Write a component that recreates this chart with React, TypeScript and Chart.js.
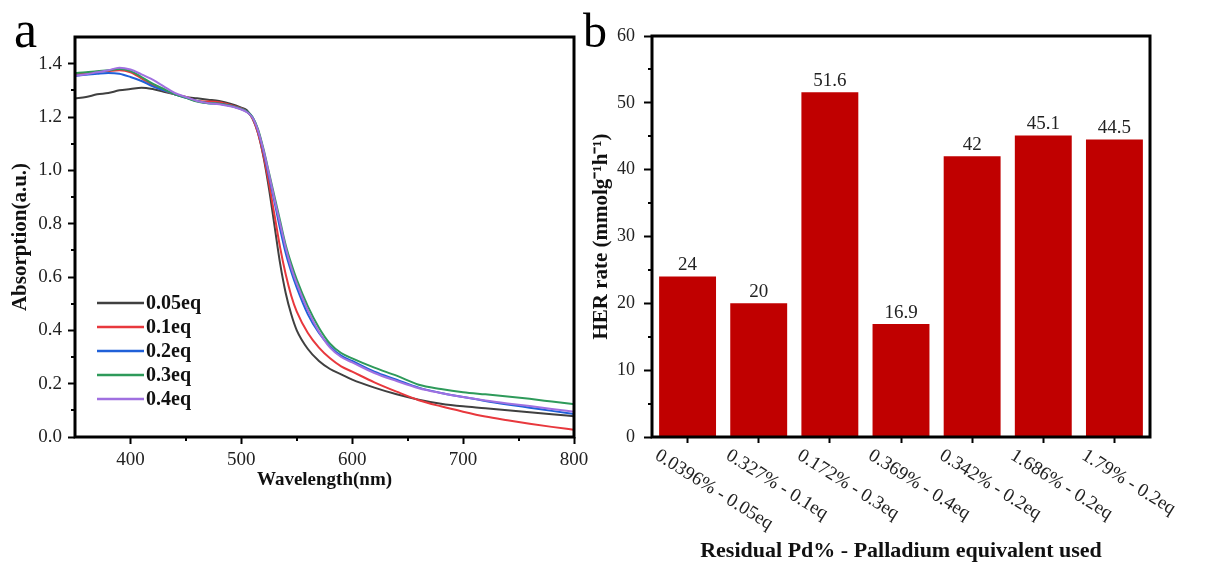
import React, { useEffect, useRef } from 'react';
import { Chart, registerables } from 'chart.js';
Chart.register(...registerables);

const SERIF = "'Liberation Serif', 'Times New Roman', serif";

// ---------- Panel a data ----------
const wavelengths = [350, 360, 370, 380, 390, 400, 410, 420, 430, 440, 450, 460, 470, 480, 490, 500, 505, 510, 515, 520, 525, 530, 535, 540, 545, 550, 560, 570, 580, 590, 600, 620, 640, 660, 680, 700, 720, 740, 760, 780, 800];
const abs005 = [1.27, 1.275, 1.285, 1.29, 1.3, 1.305, 1.31, 1.305, 1.295, 1.285, 1.275, 1.27, 1.265, 1.26, 1.25, 1.235, 1.225, 1.195, 1.14, 1.05, 0.93, 0.79, 0.65, 0.54, 0.46, 0.4, 0.33, 0.285, 0.255, 0.235, 0.215, 0.185, 0.16, 0.14, 0.125, 0.115, 0.108, 0.1, 0.093, 0.085, 0.078];
const abs01 = [1.36, 1.365, 1.37, 1.372, 1.375, 1.368, 1.345, 1.32, 1.3, 1.285, 1.275, 1.26, 1.258, 1.255, 1.245, 1.232, 1.22, 1.195, 1.14, 1.055, 0.95, 0.83, 0.71, 0.61, 0.53, 0.47, 0.39, 0.335, 0.295, 0.265, 0.245, 0.205, 0.17, 0.138, 0.115, 0.095, 0.077, 0.063, 0.05, 0.038, 0.027];
const abs02 = [1.355, 1.358, 1.362, 1.365, 1.362, 1.35, 1.335, 1.315, 1.3, 1.285, 1.272, 1.26, 1.252, 1.25, 1.242, 1.23, 1.22, 1.2, 1.15, 1.07, 0.975, 0.88, 0.78, 0.69, 0.62, 0.56, 0.46, 0.39, 0.34, 0.305, 0.285, 0.245, 0.215, 0.185, 0.165, 0.15, 0.135, 0.122, 0.11, 0.098, 0.086];
const abs03 = [1.365, 1.368, 1.372, 1.375, 1.38, 1.372, 1.35, 1.325, 1.305, 1.285, 1.272, 1.258, 1.252, 1.25, 1.242, 1.23, 1.22, 1.2, 1.155, 1.08, 0.99, 0.9, 0.81, 0.72, 0.65, 0.59, 0.49, 0.41, 0.35, 0.315, 0.295, 0.26, 0.23, 0.196, 0.18, 0.168, 0.16, 0.152, 0.143, 0.133, 0.123];
const abs04 = [1.355, 1.36, 1.368, 1.375, 1.385, 1.378, 1.36, 1.34, 1.315, 1.29, 1.275, 1.26, 1.252, 1.248, 1.24, 1.228, 1.218, 1.198, 1.15, 1.075, 0.985, 0.89, 0.8, 0.71, 0.635, 0.575, 0.475, 0.395, 0.335, 0.3, 0.28, 0.24, 0.21, 0.183, 0.165, 0.15, 0.137, 0.126, 0.116, 0.105, 0.095];
const seriesNames = ['0.05eq', '0.1eq', '0.2eq', '0.3eq', '0.4eq'];
const seriesColors = ['#404040', '#e8383d', '#2060d8', '#2e9a5a', '#a070e0'];
const seriesValues = [abs005, abs01, abs02, abs03, abs04];
const xTicksA = [400, 500, 600, 700, 800];
const xMinorA = [450, 550, 650, 750];
const yTicksA = [0, 0.2, 0.4, 0.6, 0.8, 1.0, 1.2, 1.4];
const yMinorA = [0.1, 0.3, 0.5, 0.7, 0.9, 1.1, 1.3];

// ---------- Panel b data ----------
const categories = ['0.0396% - 0.05eq', '0.327% - 0.1eq', '0.172% - 0.3eq', '0.369% - 0.4eq', '0.342% - 0.2eq', '1.686% - 0.2eq', '1.79% - 0.2eq'];
const herRates = [24, 20, 51.6, 16.9, 42, 45.1, 44.5];
const yTicksB = [0, 10, 20, 30, 40, 50, 60];
const yMinorB = [5, 15, 25, 35, 45, 55];

function drawFrame(chart: any) {
  const { ctx, chartArea: a } = chart;
  ctx.save();
  ctx.strokeStyle = '#000';
  ctx.lineWidth = 3;
  ctx.strokeRect(a.left, a.top, a.right - a.left, a.bottom - a.top);
  ctx.restore();
}

function drawMinor(chart: any, xs: number[], ys: number[], len: number) {
  const { ctx, chartArea: a, scales } = chart;
  ctx.save();
  ctx.strokeStyle = '#000';
  ctx.lineWidth = 2;
  ctx.beginPath();
  xs.forEach((v) => {
    const px = Math.round(scales.x.getPixelForValue(v));
    ctx.moveTo(px, a.bottom);
    ctx.lineTo(px, a.bottom + len);
  });
  ys.forEach((v) => {
    const py = Math.round(scales.y.getPixelForValue(v));
    ctx.moveTo(a.left, py);
    ctx.lineTo(a.left - len, py);
  });
  ctx.stroke();
  ctx.restore();
}

function PanelA() {
  const ref = useRef<HTMLCanvasElement>(null);
  useEffect(() => {
    const plugin = {
      id: 'decorA',
      afterDraw(chart: any) {
        const { ctx } = chart;
        drawMinor(chart, xMinorA, yMinorA, 4);
        drawFrame(chart);
        // legend
        ctx.save();
        ctx.font = `bold 20px ${SERIF}`;
        ctx.textBaseline = 'middle';
        chart.data.datasets.forEach((ds: any, i: number) => {
          const y = 303 + i * 24;
          ctx.strokeStyle = ds.borderColor;
          ctx.lineWidth = 2.5;
          ctx.beginPath();
          ctx.moveTo(97, y);
          ctx.lineTo(144, y);
          ctx.stroke();
          ctx.fillStyle = '#111';
          ctx.fillText(ds.label, 146, y + 1);
        });
        ctx.fillStyle = '#000';
        ctx.font = `52px ${SERIF}`;
        ctx.textBaseline = 'alphabetic';
        ctx.fillText('a', 14, 47);
        ctx.restore();
      },
    };
    const chart = new Chart(ref.current!, {
      type: 'line',
      data: {
        datasets: seriesNames.map((name, i) => ({
          label: name,
          data: wavelengths.map((w, j) => ({ x: w, y: seriesValues[i][j] })),
          borderColor: seriesColors[i],
          borderWidth: 2,
          pointRadius: 0,
          cubicInterpolationMode: 'monotone',
          order: 4 - i,
        })),
      },
      options: {
        animation: false,
        responsive: false,
        layout: { padding: { left: 8, right: 26, top: 37, bottom: 77 } },
        plugins: { legend: { display: false }, tooltip: { enabled: false } },
        scales: {
          x: {
            type: 'linear',
            min: 350,
            max: 800,
            afterBuildTicks: (s: any) => { s.ticks = xTicksA.map((v) => ({ value: v })); },
            afterFit: (s: any) => { s.height = 54; },
            ticks: { color: '#222', font: { family: SERIF, size: 19 }, padding: 5, maxRotation: 0 },
            grid: { drawOnChartArea: false, tickLength: 7, tickWidth: 2, tickColor: '#000' },
            border: { display: false },
            title: { display: true, text: 'Wavelength(nm)', color: '#111', font: { family: SERIF, size: 19, weight: 'bold' }, padding: 0 },
          },
          y: {
            min: 0,
            max: 1.5,
            afterBuildTicks: (s: any) => { s.ticks = yTicksA.map((v) => ({ value: v })); },
            afterFit: (s: any) => { s.width = 67; },
            ticks: { color: '#222', font: { family: SERIF, size: 19 }, padding: 6, callback: (v: any) => Number(v).toFixed(1) },
            grid: { drawOnChartArea: false, tickLength: 7, tickWidth: 2, tickColor: '#000' },
            border: { display: false },
            title: { display: true, text: 'Absorption(a.u.)', color: '#111', font: { family: SERIF, size: 21, weight: 'bold' }, padding: 0 },
          },
        },
      } as any,
      plugins: [plugin],
    });
    return () => chart.destroy();
  }, []);
  return <canvas ref={ref} width={600} height={568} style={{ position: 'absolute', left: 0, top: 0, width: 600, height: 568 }} />;
}

function PanelB() {
  const ref = useRef<HTMLCanvasElement>(null);
  useEffect(() => {
    const plugin = {
      id: 'decorB',
      afterDraw(chart: any) {
        const { ctx, chartArea: a, scales } = chart;
        drawMinor(chart, [], yMinorB, 4);
        drawFrame(chart);
        ctx.save();
        // value labels
        ctx.fillStyle = '#222';
        ctx.font = `19px ${SERIF}`;
        ctx.textAlign = 'center';
        ctx.textBaseline = 'bottom';
        const meta = chart.getDatasetMeta(0);
        meta.data.forEach((bar: any, i: number) => {
          ctx.fillText(String(herRates[i]), bar.x, bar.y - 2);
        });
        // rotated category labels
        ctx.textAlign = 'left';
        ctx.textBaseline = 'top';
        ctx.font = `19px ${SERIF}`;
        const ang = (32 * Math.PI) / 180;
        categories.forEach((c, i) => {
          const px = scales.x.getPixelForValue(i);
          ctx.save();
          ctx.translate(px - 26, a.bottom + 9);
          ctx.rotate(ang);
          ctx.fillText(c, 0, 0);
          ctx.restore();
        });
        ctx.fillStyle = '#000';
        ctx.font = `48px ${SERIF}`;
        ctx.textBaseline = 'alphabetic';
        ctx.fillText('b', 3, 47);
        ctx.restore();
      },
    };
    const chart = new Chart(ref.current!, {
      type: 'bar',
      data: {
        labels: categories,
        datasets: [{ label: 'HER rate', data: herRates, backgroundColor: '#c00000', categoryPercentage: 1, barPercentage: 0.8 }],
      },
      options: {
        animation: false,
        responsive: false,
        layout: { padding: { left: 9, right: 58, top: 36, bottom: 3 } },
        plugins: { legend: { display: false }, tooltip: { enabled: false } },
        scales: {
          x: {
            type: 'category',
            afterFit: (s: any) => { s.height = 128; },
            ticks: { display: false },
            grid: { drawOnChartArea: false, offset: false, tickLength: 6, tickWidth: 2, tickColor: '#000' },
            border: { display: false },
            title: { display: true, text: 'Residual Pd% - Palladium equivalent used', color: '#111', font: { family: SERIF, size: 22, weight: 'bold' }, padding: 0 },
          },
          y: {
            min: 0,
            max: 60,
            afterBuildTicks: (s: any) => { s.ticks = yTicksB.map((v) => ({ value: v })); },
            afterFit: (s: any) => { s.width = 63; },
            ticks: { color: '#222', font: { family: SERIF, size: 18 }, padding: 9 },
            grid: { drawOnChartArea: false, tickLength: 8, tickWidth: 2, tickColor: '#000' },
            border: { display: false },
            title: { display: true, text: 'HER rate (mmolg⁻¹h⁻¹)', color: '#111', font: { family: SERIF, size: 21, weight: 'bold' }, padding: 0 },
          },
        },
      } as any,
      plugins: [plugin],
    });
    return () => chart.destroy();
  }, []);
  return <canvas ref={ref} width={628} height={568} style={{ position: 'absolute', left: 580, top: 0, width: 628, height: 568 }} />;
}

export default function App() {
  return (
    <div style={{ position: 'absolute', left: 0, top: 0, width: 1208, height: 568, background: '#fff', overflow: 'hidden' }}>
      <PanelA />
      <PanelB />
    </div>
  );
}
